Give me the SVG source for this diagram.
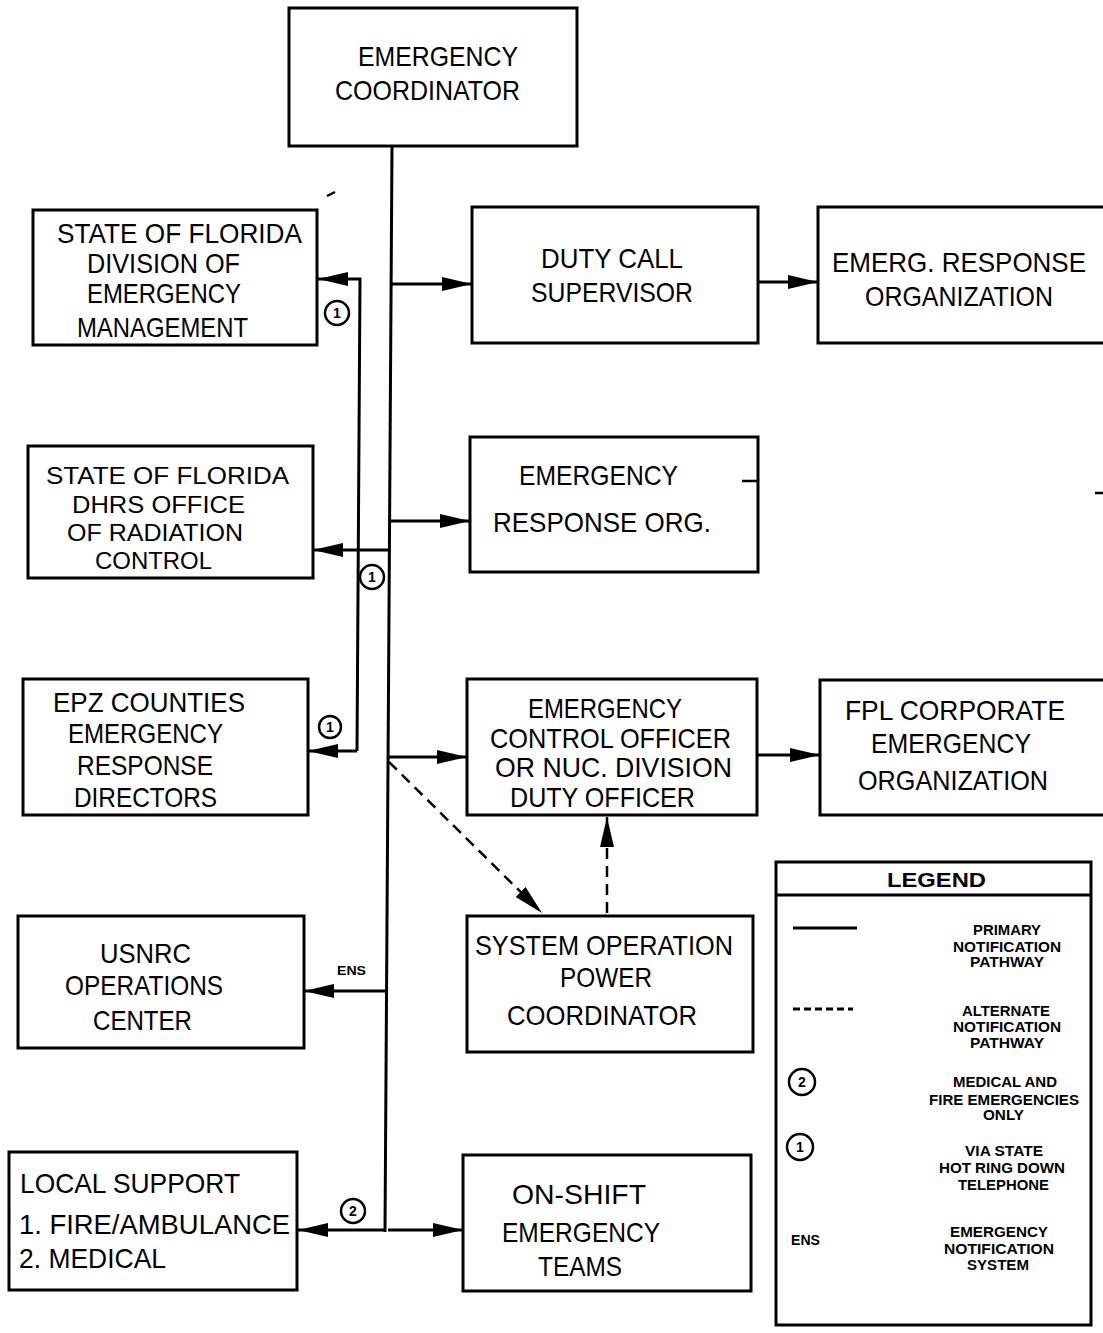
<svg xmlns="http://www.w3.org/2000/svg" width="1103" height="1333" viewBox="0 0 1103 1333">
<style>
.box{fill:#fff;stroke:#000;stroke-width:3}
.t{font-family:"Liberation Sans",Arial,sans-serif;font-size:28px;fill:#000}
.ts{font-family:"Liberation Sans",Arial,sans-serif;font-size:24px;fill:#000}
.lg{font-family:"Liberation Sans",Arial,sans-serif;font-size:14px;font-weight:bold;fill:#000}
.ln{fill:none;stroke:#000;stroke-width:3}
.dash{fill:none;stroke:#000;stroke-width:2.5;stroke-dasharray:11 7}
.cir{fill:#fff;stroke:#000;stroke-width:2.5}
.num{font-family:"Liberation Sans",Arial,sans-serif;font-size:14px;font-weight:bold;text-anchor:middle;fill:#000}
</style>
<defs>
<marker id="ah" markerUnits="userSpaceOnUse" markerWidth="32" markerHeight="16" refX="30" refY="7" orient="auto">
<path d="M0,0 L30,7 L0,14 z" fill="#000"/>
</marker>
</defs>
<rect width="1103" height="1333" fill="#fff"/>

<g id="connectors">
<path class="ln" d="M392,146 L385,1232"/>
<path class="ln" d="M391,284 L472,284" marker-end="url(#ah)"/>
<path class="ln" d="M390,521 L470,521" marker-end="url(#ah)"/>
<path class="ln" d="M389,550 L313,550" marker-end="url(#ah)"/>
<path class="ln" d="M388,757 L467,757" marker-end="url(#ah)"/>
<path class="ln" d="M386,991 L304,991" marker-end="url(#ah)"/>
<path class="ln" d="M385,1230 L298,1230" marker-end="url(#ah)"/>
<path class="ln" d="M388,1230 L463,1230" marker-end="url(#ah)"/>
<path class="ln" d="M357,751 L360,279 L318,279" marker-end="url(#ah)"/>
<path class="ln" d="M357,751 L308,751" marker-end="url(#ah)"/>
<path class="ln" d="M758,282 L818,282" marker-end="url(#ah)"/>
<path class="ln" d="M757,755 L820,755" marker-end="url(#ah)"/>
<path class="dash" d="M389,762 L542,913" marker-end="url(#ah)"/>
<path class="dash" d="M607,913 L607,817" marker-end="url(#ah)"/>
<text class="lg" x="337" y="975" textLength="29" lengthAdjust="spacingAndGlyphs" style="font-size:12px">ENS</text>
<g id="c1a"><circle class="cir" cx="337" cy="313" r="12"/><text class="num" x="337" y="318">1</text></g>
<g id="c1b"><circle class="cir" cx="372" cy="577" r="12"/><text class="num" x="372" y="582">1</text></g>
<g id="c1c"><circle class="cir" cx="330" cy="727" r="11"/><text class="num" x="330" y="732">1</text></g>
<g id="c2"><circle class="cir" cx="353" cy="1211" r="12"/><text class="num" x="353" y="1216">2</text></g>
</g>

<g id="n-coordinator">
<rect class="box" x="289" y="8" width="288" height="138"/>
<text class="t" x="358" y="66" textLength="160" lengthAdjust="spacingAndGlyphs">EMERGENCY</text>
<text class="t" x="335" y="100" textLength="185" lengthAdjust="spacingAndGlyphs">COORDINATOR</text>
</g>

<g id="n-division">
<rect class="box" x="33" y="210" width="284" height="135"/>
<text class="t" x="57" y="243" textLength="245" lengthAdjust="spacingAndGlyphs">STATE OF FLORIDA</text>
<text class="t" x="87" y="273" textLength="153" lengthAdjust="spacingAndGlyphs">DIVISION OF</text>
<text class="t" x="87" y="303" textLength="154" lengthAdjust="spacingAndGlyphs">EMERGENCY</text>
<text class="t" x="77" y="337" textLength="171" lengthAdjust="spacingAndGlyphs">MANAGEMENT</text>
</g>

<g id="n-dhrs">
<rect class="box" x="28" y="446" width="285" height="132"/>
<text class="ts" x="46" y="484" textLength="243" lengthAdjust="spacingAndGlyphs">STATE OF FLORIDA</text>
<text class="ts" x="72" y="513" textLength="173" lengthAdjust="spacingAndGlyphs">DHRS OFFICE</text>
<text class="ts" x="67" y="541" textLength="176" lengthAdjust="spacingAndGlyphs">OF RADIATION</text>
<text class="ts" x="95" y="569" textLength="117" lengthAdjust="spacingAndGlyphs">CONTROL</text>
</g>

<g id="n-epz">
<rect class="box" x="23" y="679" width="285" height="136"/>
<text class="t" x="53" y="712" textLength="192" lengthAdjust="spacingAndGlyphs">EPZ COUNTIES</text>
<text class="t" x="68" y="743" textLength="155" lengthAdjust="spacingAndGlyphs">EMERGENCY</text>
<text class="t" x="77" y="775" textLength="136" lengthAdjust="spacingAndGlyphs">RESPONSE</text>
<text class="t" x="74" y="807" textLength="143" lengthAdjust="spacingAndGlyphs">DIRECTORS</text>
</g>

<g id="n-usnrc">
<rect class="box" x="18" y="916" width="286" height="132"/>
<text class="t" x="100" y="963" textLength="91" lengthAdjust="spacingAndGlyphs">USNRC</text>
<text class="t" x="65" y="995" textLength="158" lengthAdjust="spacingAndGlyphs">OPERATIONS</text>
<text class="t" x="93" y="1030" textLength="99" lengthAdjust="spacingAndGlyphs">CENTER</text>
</g>

<g id="n-local">
<rect class="box" x="9" y="1152" width="288" height="138"/>
<text class="t" x="20" y="1193" textLength="220" lengthAdjust="spacingAndGlyphs">LOCAL SUPPORT</text>
<text class="t" x="19" y="1234" textLength="271" lengthAdjust="spacingAndGlyphs">1. FIRE/AMBULANCE</text>
<text class="t" x="19" y="1268" textLength="147" lengthAdjust="spacingAndGlyphs">2. MEDICAL</text>
</g>

<g id="n-dutycall">
<rect class="box" x="472" y="207" width="286" height="136"/>
<text class="t" x="541" y="268" textLength="142" lengthAdjust="spacingAndGlyphs">DUTY CALL</text>
<text class="t" x="531" y="302" textLength="162" lengthAdjust="spacingAndGlyphs">SUPERVISOR</text>
</g>

<g id="n-emergresp">
<rect class="box" x="818" y="207" width="295" height="136"/>
<text class="t" x="832" y="272" textLength="254" lengthAdjust="spacingAndGlyphs">EMERG. RESPONSE</text>
<text class="t" x="865" y="306" textLength="188" lengthAdjust="spacingAndGlyphs">ORGANIZATION</text>
</g>

<g id="n-ero">
<rect class="box" x="470" y="437" width="288" height="135"/>
<text class="t" x="519" y="485" textLength="159" lengthAdjust="spacingAndGlyphs">EMERGENCY</text>
<text class="t" x="493" y="532" textLength="218" lengthAdjust="spacingAndGlyphs">RESPONSE ORG.</text>
</g>

<g id="n-eco">
<rect class="box" x="467" y="679" width="290" height="136"/>
<text class="t" x="528" y="718" textLength="154" lengthAdjust="spacingAndGlyphs">EMERGENCY</text>
<text class="t" x="490" y="748" textLength="241" lengthAdjust="spacingAndGlyphs">CONTROL OFFICER</text>
<text class="t" x="495" y="777" textLength="237" lengthAdjust="spacingAndGlyphs">OR NUC. DIVISION</text>
<text class="t" x="510" y="807" textLength="185" lengthAdjust="spacingAndGlyphs">DUTY OFFICER</text>
</g>

<g id="n-fpl">
<rect class="box" x="820" y="680" width="293" height="135"/>
<text class="t" x="845" y="720" textLength="220" lengthAdjust="spacingAndGlyphs">FPL CORPORATE</text>
<text class="t" x="871" y="753" textLength="160" lengthAdjust="spacingAndGlyphs">EMERGENCY</text>
<text class="t" x="858" y="790" textLength="190" lengthAdjust="spacingAndGlyphs">ORGANIZATION</text>
</g>

<g id="n-sysop">
<rect class="box" x="467" y="916" width="286" height="136"/>
<text class="t" x="475" y="955" textLength="258" lengthAdjust="spacingAndGlyphs">SYSTEM OPERATION</text>
<text class="t" x="560" y="987" textLength="92" lengthAdjust="spacingAndGlyphs">POWER</text>
<text class="t" x="507" y="1025" textLength="190" lengthAdjust="spacingAndGlyphs">COORDINATOR</text>
</g>

<g id="n-onshift">
<rect class="box" x="463" y="1155" width="288" height="136"/>
<text class="t" x="512" y="1204" textLength="134" lengthAdjust="spacingAndGlyphs">ON-SHIFT</text>
<text class="t" x="502" y="1242" textLength="158" lengthAdjust="spacingAndGlyphs">EMERGENCY</text>
<text class="t" x="538" y="1276" textLength="84" lengthAdjust="spacingAndGlyphs">TEAMS</text>
</g>

<g id="legend">
<rect class="box" x="776" y="862" width="315" height="463"/>
<line class="ln" x1="776" y1="895" x2="1091" y2="895"/>
<text class="lg" x="887" y="887" textLength="99" lengthAdjust="spacingAndGlyphs" style="font-size:20px">LEGEND</text>
<line class="ln" x1="793" y1="928" x2="857" y2="928"/>
<text class="lg" x="973" y="935" textLength="68" lengthAdjust="spacingAndGlyphs">PRIMARY</text>
<text class="lg" x="953" y="952" textLength="108" lengthAdjust="spacingAndGlyphs">NOTIFICATION</text>
<text class="lg" x="970" y="967" textLength="74" lengthAdjust="spacingAndGlyphs">PATHWAY</text>
<line x1="793" y1="1009" x2="853" y2="1009" stroke="#000" stroke-width="3" stroke-dasharray="7 4"/>
<text class="lg" x="962" y="1016" textLength="88" lengthAdjust="spacingAndGlyphs">ALTERNATE</text>
<text class="lg" x="953" y="1032" textLength="108" lengthAdjust="spacingAndGlyphs">NOTIFICATION</text>
<text class="lg" x="970" y="1048" textLength="74" lengthAdjust="spacingAndGlyphs">PATHWAY</text>
<circle class="cir" cx="802" cy="1082" r="13"/><text class="num" x="802" y="1087">2</text>
<text class="lg" x="953" y="1087" textLength="104" lengthAdjust="spacingAndGlyphs">MEDICAL AND</text>
<text class="lg" x="929" y="1105" textLength="150" lengthAdjust="spacingAndGlyphs">FIRE EMERGENCIES</text>
<text class="lg" x="983" y="1120" textLength="41" lengthAdjust="spacingAndGlyphs">ONLY</text>
<circle class="cir" cx="800" cy="1147" r="13"/><text class="num" x="800" y="1152">1</text>
<text class="lg" x="965" y="1156" textLength="78" lengthAdjust="spacingAndGlyphs">VIA STATE</text>
<text class="lg" x="939" y="1173" textLength="126" lengthAdjust="spacingAndGlyphs">HOT RING DOWN</text>
<text class="lg" x="958" y="1190" textLength="91" lengthAdjust="spacingAndGlyphs">TELEPHONE</text>
<text class="lg" x="791" y="1245" textLength="29" lengthAdjust="spacingAndGlyphs">ENS</text>
<text class="lg" x="950" y="1237" textLength="98" lengthAdjust="spacingAndGlyphs">EMERGENCY</text>
<text class="lg" x="944" y="1254" textLength="110" lengthAdjust="spacingAndGlyphs">NOTIFICATION</text>
<text class="lg" x="967" y="1270" textLength="62" lengthAdjust="spacingAndGlyphs">SYSTEM</text>
</g>

<g id="marks" stroke="#000" stroke-width="2.5">
<line x1="327" y1="196" x2="335" y2="192"/>
<line x1="742" y1="481" x2="757" y2="481"/>
<line x1="1095" y1="493" x2="1103" y2="493"/>
</g>
</svg>
